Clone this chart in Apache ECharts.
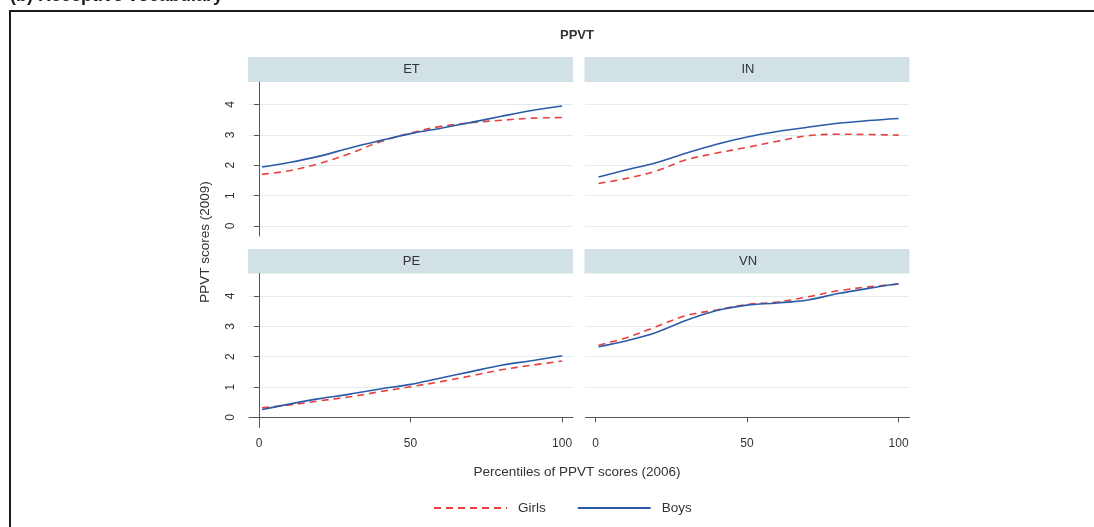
<!DOCTYPE html>
<html><head><meta charset="utf-8">
<script src="https://cdn.jsdelivr.net/npm/echarts@6/dist/echarts.min.js"></script>
<style>html,body{margin:0;padding:0;background:#fff}#c{width:1094px;height:527px}</style>
</head><body><div id="c"></div><script>
// ---- data ----
const percentiles = [1, 10, 20, 30, 40, 50, 60, 70, 80, 90, 100];
const panelNames = ['ET', 'IN', 'PE', 'VN'];
const girlsET = [1.70, 1.82, 2.06, 2.39, 2.77, 3.06, 3.28, 3.40, 3.48, 3.55, 3.57];
const boysET  = [1.94, 2.09, 2.30, 2.57, 2.81, 3.04, 3.22, 3.41, 3.61, 3.80, 3.95];
const girlsIN = [1.40, 1.56, 1.81, 2.18, 2.40, 2.59, 2.79, 2.97, 3.02, 3.01, 2.99];
const boysIN  = [1.61, 1.84, 2.08, 2.40, 2.69, 2.93, 3.11, 3.25, 3.38, 3.47, 3.54];
const girlsPE = [0.32, 0.41, 0.55, 0.68, 0.85, 1.01, 1.18, 1.37, 1.57, 1.72, 1.86];
const boysPE  = [0.26, 0.44, 0.62, 0.77, 0.94, 1.09, 1.30, 1.51, 1.72, 1.87, 2.03];
const girlsVN = [2.38, 2.62, 2.99, 3.36, 3.54, 3.72, 3.80, 3.97, 4.17, 4.30, 4.39];
const boysVN  = [2.33, 2.52, 2.80, 3.20, 3.52, 3.70, 3.77, 3.87, 4.08, 4.25, 4.40];
const xTicks = [0, 50, 100];
const yTicks = [0, 1, 2, 3, 4];
const seriesNames = ['Girls', 'Boys'];
const chartTitle = 'PPVT';
const yTitle = 'PPVT scores (2009)';
const xTitle = 'Percentiles of PPVT scores (2006)';
const figTitle = '(b) Receptive vocabulary';

// ---- layout / style ----
const FONT = 'Liberation Sans';
const RED = '#e8413c', BLUE = '#2b5ba8';
const AXIS = '#555', TXT = '#333', GRIDC = '#e3ecf0', STRIP = '#d2e1e6';
const gridPos = [
  {left: 249, top: 82},
  {left: 585.5, top: 82},
  {left: 249, top: 273.5},
  {left: 585.5, top: 273.5}
];
const GW = 324, GH = 154;
const girls = [girlsET, girlsIN, girlsPE, girlsVN];
const boys = [boysET, boysIN, boysPE, boysVN];

const grids = gridPos.map(g => ({left: g.left, top: g.top, width: GW, height: GH, containLabel: false}));
const xAxes = gridPos.map((g, i) => {
  const bottom = i >= 2;
  return {
    gridIndex: i, type: 'value', min: -3.3, max: 103.6,
    axisLine: {show: bottom, lineStyle: {color: AXIS, width: 1}},
    axisTick: {show: bottom, length: 5, customValues: xTicks, lineStyle: {color: AXIS}},
    axisLabel: {show: bottom, customValues: xTicks, margin: 10, fontSize: 12, color: TXT, fontFamily: FONT},
    splitLine: {show: false}
  };
});
const yAxes = gridPos.map((g, i) => {
  const left = i % 2 === 0;
  return {
    gridIndex: i, type: 'value', min: -0.33, max: 4.74,
    axisLine: {show: left, lineStyle: {color: AXIS, width: 1}},
    axisTick: {show: left, length: 5, customValues: yTicks, lineStyle: {color: AXIS}},
    axisLabel: {show: left, customValues: yTicks, rotate: 90, margin: 12, fontSize: 12, color: TXT, fontFamily: FONT},
    splitLine: {show: true, lineStyle: {color: GRIDC, width: 1}}
  };
});
const series = [];
girls.forEach((arr, i) => series.push({
  name: seriesNames[0], type: 'line', xAxisIndex: i, yAxisIndex: i, symbol: 'none', smooth: 0.35,
  data: percentiles.map((p, k) => [p, arr[k]]),
  lineStyle: {color: RED, width: 1.6, type: [7, 5]}, itemStyle: {color: RED}, z: 2
}));
boys.forEach((arr, i) => series.push({
  name: seriesNames[1], type: 'line', xAxisIndex: i, yAxisIndex: i, symbol: 'none', smooth: 0.35,
  data: percentiles.map((p, k) => [p, arr[k]]),
  lineStyle: {color: BLUE, width: 1.6}, itemStyle: {color: BLUE}, z: 3
}));

const graphics = [
  {type: 'rect', shape: {x: 10, y: 11, width: 1200, height: 700}, style: {fill: 'none', stroke: '#1a1a1a', lineWidth: 2}, z: 0},
  {type: 'text', x: 10, y: 5, style: {text: figTitle, font: 'bold 18px ' + FONT, fill: '#1a1a1a', textVerticalAlign: 'bottom'}},
  {type: 'text', x: 577, y: 35, style: {text: chartTitle, font: 'bold 13px ' + FONT, fill: TXT, textAlign: 'center', textVerticalAlign: 'middle'}},
  {type: 'text', x: 205, y: 242, rotation: Math.PI / 2, style: {text: yTitle, font: '13.5px ' + FONT, fill: TXT, textAlign: 'center', textVerticalAlign: 'middle'}},
  {type: 'text', x: 577, y: 472, style: {text: xTitle, font: '13.5px ' + FONT, fill: TXT, textAlign: 'center', textVerticalAlign: 'middle'}}
];
gridPos.forEach((g, i) => {
  const stripTop = i < 2 ? 57 : 249;
  const h = g.top - stripTop;
  graphics.push({type: 'rect', shape: {x: g.left - 1, y: stripTop, width: GW + 1, height: h}, style: {fill: STRIP}, z: 0});
  graphics.push({type: 'text', x: g.left + GW / 2 + 0.5, y: stripTop + h / 2, style: {text: panelNames[i], font: '13px ' + FONT, fill: TXT, textAlign: 'center', textVerticalAlign: 'middle'}, z: 1});
});

const chart = echarts.init(document.getElementById('c'), null, {renderer: 'canvas'});
chart.setOption({
  animation: false,
  backgroundColor: '#fff',
  textStyle: {fontFamily: FONT},
  grid: grids, xAxis: xAxes, yAxis: yAxes, series: series,
  legend: {
    data: seriesNames, left: 433, top: 501, padding: 0, itemWidth: 73, itemHeight: 14, itemGap: 31,
    itemStyle: {opacity: 0},
    textStyle: {fontSize: 13.5, color: TXT, fontFamily: FONT, padding: [0, 0, 0, 6]}
  },
  graphic: graphics
});
</script></body></html>
